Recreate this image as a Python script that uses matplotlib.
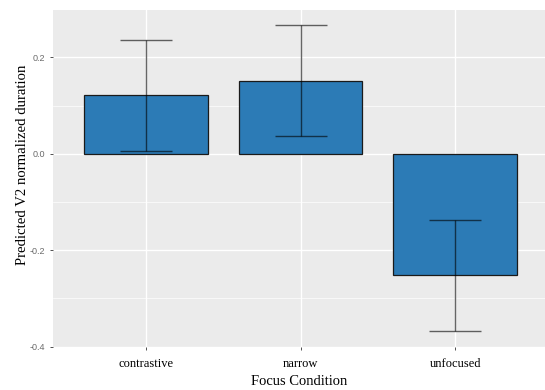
import numpy as np
import matplotlib.pyplot as plt
from matplotlib.ticker import MultipleLocator

# data
conditions = ['contrastive', 'narrow', 'unfocused']
estimates = [0.121, 0.152, -0.252]
ci_low = [0.006, 0.036, -0.368]
ci_high = [0.237, 0.268, -0.137]

fig = plt.figure(figsize=(5.45, 3.9), dpi=100)
ax = fig.add_axes([0.0972, 0.109, 0.903, 0.865])
ax.set_facecolor('#ebebeb')

x = np.arange(1, len(conditions) + 1)
ax.bar(x, estimates, width=0.8, color='#2c7bb6', edgecolor='#1a1a1a',
       linewidth=0.9, zorder=3)
yerr = [np.array(estimates) - np.array(ci_low), np.array(ci_high) - np.array(estimates)]
ax.errorbar(x, estimates, yerr=yerr, fmt='none', ecolor='black', alpha=0.6,
            elinewidth=1.0, capsize=19, capthick=1.0, zorder=4)

ax.set_xlim(0.4, 3.58)
ax.set_ylim(-0.402, 0.298)
ax.set_xticks(x)
ax.set_xticklabels(conditions, family='Liberation Serif', fontsize=9, color='black')
ax.yaxis.set_major_locator(MultipleLocator(0.2))
ax.yaxis.set_minor_locator(MultipleLocator(0.1))
ax.set_yticklabels([f'{v:.1f}' for v in ax.get_yticks()],
                   family='Liberation Sans', fontsize=6.5, color='#6b6b6b')
ax.tick_params(axis='x', pad=5)
ax.tick_params(which='major', length=2.5, color='#333333', width=0.6)
ax.tick_params(which='minor', length=0)

ax.grid(which='major', color='white', linewidth=1.0, zorder=0)
ax.grid(which='minor', axis='y', color='white', linewidth=0.5, zorder=0)
ax.set_axisbelow(True)
for s in ax.spines.values():
    s.set_visible(False)

ax.set_xlabel('Focus Condition', family='Liberation Serif', fontsize=10.5, labelpad=4)
ax.set_ylabel('Predicted V2 normalized duration', family='Liberation Serif',
              fontsize=10.6)
ax.yaxis.set_label_coords(-0.048, 0.542)

fig.savefig('out.png', dpi=100)
